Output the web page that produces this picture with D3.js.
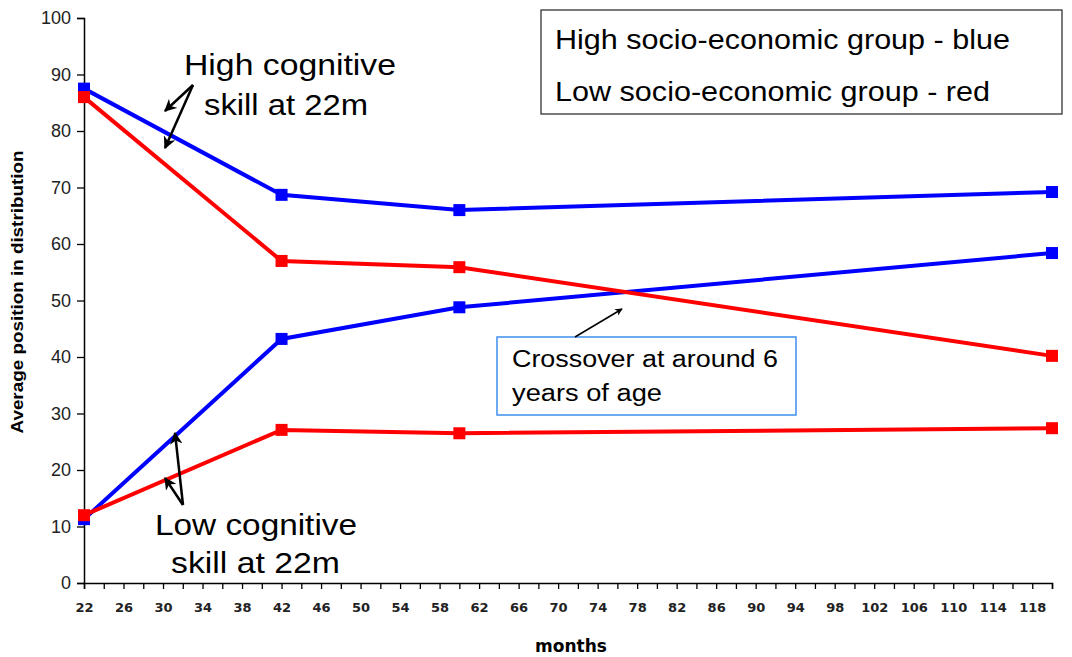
<!DOCTYPE html>
<html>
<head>
<meta charset="utf-8">
<script src="https://cdn.jsdelivr.net/npm/d3@7"></script>
<style>
  body { margin: 0; background: #fff; }
  text { font-family: Arial, "Liberation Sans", sans-serif; }
</style>
</head>
<body>
<div id="graph"></div>
<script>
const width = 1072, height = 657;

// chart data
const months = [22, 42, 60, 120];
const highBlue = [87.5, 68.7, 66.0, 69.2];
const highRed = [86.0, 57.0, 55.9, 40.2];
const lowBlue = [11.3, 43.2, 48.8, 58.4];
const lowRed = [12.0, 27.1, 26.5, 27.4];
const xTickLabels = d3.range(22, 119, 4);
const yTicks = d3.range(0, 101, 10);

const series = [
  {name: "high-blue", color: "#0000ff", values: highBlue},
  {name: "low-blue", color: "#0000ff", values: lowBlue},
  {name: "high-red", color: "#ff0000", values: highRed},
  {name: "low-red", color: "#ff0000", values: lowRed}
];

const svg = d3.select("#graph").append("svg")
  .attr("width", width)
  .attr("height", height);

const xScale = d3.scaleLinear().domain([22, 120]).range([84, 1052]);
const yScale = d3.scaleLinear().domain([0, 100]).range([583, 18]);

// y axis
const yAxis = d3.axisLeft(yScale).tickValues(yTicks).tickSize(7).tickPadding(6);
const gy = svg.append("g").attr("transform", "translate(" + xScale(22) + ",0)").call(yAxis);
gy.select(".domain").attr("stroke", "#000").attr("stroke-width", 1.5);
gy.selectAll(".tick line").attr("stroke", "#000").attr("stroke-width", 1.3);
gy.selectAll(".tick text").attr("font-size", 18).attr("fill", "#222");

// x axis: ticks every 2 months, labels every 4
const xAxis = d3.axisBottom(xScale).tickValues(d3.range(22, 121, 2)).tickSize(6).tickPadding(14)
  .tickFormat(d => xTickLabels.includes(d) ? d : "");
const gx = svg.append("g").attr("transform", "translate(0," + yScale(0) + ")").call(xAxis);
gx.select(".domain").attr("stroke", "#000").attr("stroke-width", 1.5);
gx.selectAll(".tick line").attr("stroke", "#000").attr("stroke-width", 1.3);
gx.selectAll(".tick text")
  .style("font-family", "'DejaVu Sans', Verdana, sans-serif")
  .attr("font-size", 13).attr("font-weight", "bold").attr("fill", "#222");

// axis titles
svg.append("text")
  .attr("x", 571).attr("y", 652)
  .attr("text-anchor", "middle")
  .style("font-family", "'DejaVu Sans', Verdana, sans-serif")
  .attr("font-size", 17).attr("font-weight", "bold")
  .text("months");
svg.append("text")
  .attr("transform", "translate(23,292) rotate(-90)")
  .attr("text-anchor", "middle")
  .attr("font-size", 16).attr("font-weight", "bold")
  .attr("textLength", 283).attr("lengthAdjust", "spacingAndGlyphs")
  .text("Average position in distribution");

// lines + markers
const line = d3.line()
  .x((d, i) => xScale(months[i]))
  .y(d => yScale(d));

series.forEach(s => {
  svg.append("path")
    .datum(s.values)
    .attr("fill", "none")
    .attr("stroke", s.color)
    .attr("stroke-width", 4)
    .attr("d", line);
});
series.forEach(s => {
  svg.selectAll(".m-" + s.name)
    .data(s.values)
    .enter().append("rect")
    .attr("class", "m-" + s.name)
    .attr("x", (d, i) => xScale(months[i]) - 6)
    .attr("y", d => yScale(d) - 6)
    .attr("width", 12)
    .attr("height", 12)
    .attr("fill", s.color);
});

// arrow marker
svg.append("defs").append("marker")
  .attr("id", "arrow")
  .attr("viewBox", "0 0 10 10")
  .attr("refX", 9).attr("refY", 5)
  .attr("markerWidth", 5).attr("markerHeight", 5)
  .attr("orient", "auto")
  .append("path")
  .attr("d", "M0,0 L10,5 L0,10 L3,5 z")
  .attr("fill", "#000");

function arrow(x1, y1, x2, y2, w) {
  svg.append("line")
    .attr("x1", x1).attr("y1", y1).attr("x2", x2).attr("y2", y2)
    .attr("stroke", "#000").attr("stroke-width", w)
    .attr("marker-end", "url(#arrow)");
}

function label(x, y, size, len, str) {
  svg.append("text").attr("x", x).attr("y", y)
    .attr("font-size", size)
    .attr("textLength", len).attr("lengthAdjust", "spacingAndGlyphs")
    .text(str);
}

// legend box
svg.append("rect")
  .attr("x", 541).attr("y", 10).attr("width", 521).attr("height", 104)
  .attr("fill", "#fff").attr("stroke", "#333").attr("stroke-width", 1.3);
label(555, 49, 27, 455, "High socio-economic group - blue");
label(555, 101, 27, 435, "Low socio-economic group - red");

// high cognitive annotation
label(184, 75, 29, 212, "High cognitive");
label(204, 115, 29, 164, "skill at 22m");
arrow(193, 85, 165, 111, 2.5);
arrow(193, 85, 165, 148, 2.5);

// low cognitive annotation
label(155, 535, 29, 202, "Low cognitive");
label(171, 573, 29, 169, "skill at 22m");
arrow(183, 505, 175, 433, 2.5);
arrow(183, 505, 165, 478, 2.5);

// crossover annotation
svg.append("rect")
  .attr("x", 497).attr("y", 337).attr("width", 299).attr("height", 78)
  .attr("fill", "#fff").attr("stroke", "#3d8ef0").attr("stroke-width", 1.5);
label(512, 367, 23, 266, "Crossover at around 6");
label(512, 401, 23, 150, "years of age");
arrow(575, 337, 622, 309, 1.5);
</script>
</body>
</html>
